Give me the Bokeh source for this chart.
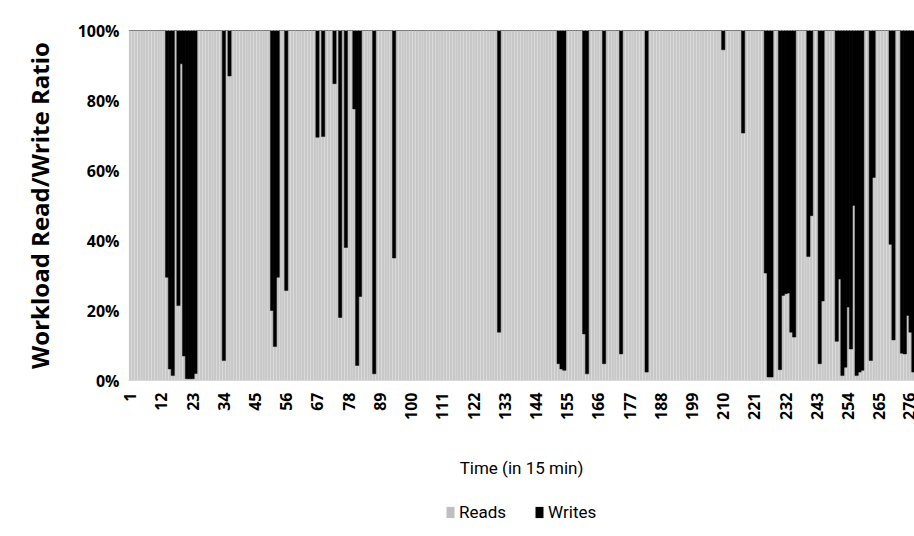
import math
from bokeh.plotting import figure
from bokeh.layouts import column
from bokeh.models import ColumnDataSource, FixedTicker, NumeralTickFormatter, Range1d, Legend
from bokeh.transform import stack
from bokeh.embed import file_html
from bokeh.resources import INLINE

# Reads share (%) per 15-min period (writes = remainder)
reads_pct = [
    100, 100, 100, 100, 100, 100, 100, 100, 100, 100, 100,            # 1-11
    100, 100, 29.5, 3.3, 1.4, 100, 21.4, 90.5, 7.0, 0.5, 0.5,         # 12-22
    0.5, 2.0, 100, 100, 100, 100, 100, 100, 100, 100, 100,            # 23-33
    5.7, 100, 87.0, 100, 100, 100, 100, 100, 100, 100, 100,           # 34-44
    100, 100, 100, 100, 100, 100, 20.0, 9.7, 29.5, 100, 100,          # 45-55
    25.7, 100, 100, 100, 100, 100, 100, 100, 100, 100, 100,           # 56-66
    69.5, 100, 69.7, 100, 100, 100, 84.8, 100, 18.0, 100, 38.0,       # 67-77
    100, 100, 77.6, 4.3, 24.0, 100, 100, 100, 100, 1.9, 100,          # 78-88
    100, 100, 100, 100, 100, 35.0, 100, 100, 100, 100, 100,           # 89-99
    100, 100, 100, 100, 100, 100, 100, 100, 100, 100, 100,            # 100-110
    100, 100, 100, 100, 100, 100, 100, 100, 100, 100, 100,            # 111-121
    100, 100, 100, 100, 100, 100, 100, 100, 100, 13.8, 100,           # 122-132
    100, 100, 100, 100, 100, 100, 100, 100, 100, 100, 100,            # 133-143
    100, 100, 100, 100, 100, 100, 100, 100, 4.8, 3.3, 2.9,            # 144-154
    100, 100, 100, 100, 100, 100, 13.3, 1.9, 100, 100, 100,           # 155-165
    100, 100, 4.8, 100, 100, 100, 100, 100, 7.6, 100, 100,            # 166-176
    100, 100, 100, 100, 100, 100, 2.4, 100, 100, 100, 100,            # 177-187
    100, 100, 100, 100, 100, 100, 100, 100, 100, 100, 100,            # 188-198
    100, 100, 100, 100, 100, 100, 100, 100, 100, 100, 100,            # 199-209
    94.5, 100, 100, 100, 100, 100, 100, 70.7, 100, 100, 100,          # 210-220
    100, 100, 100, 100, 30.7, 1.0, 1.0, 100, 100, 3.1, 24.3,          # 221-231
    24.8, 25.0, 13.8, 12.4, 100, 100, 100, 100, 35.4, 47.1, 100,      # 232-242
    100, 4.8, 22.7, 100, 100, 100, 100, 11.2, 29.0, 1.4, 3.8,         # 243-253
    21.0, 9.0, 50.0, 1.4, 2.4, 2.9, 100, 100, 5.7, 58.0, 100,         # 254-264
    100, 100, 100, 100, 38.9, 11.6, 100, 100, 7.8, 7.6, 18.6,         # 265-275
    13.8, 2.4,                                                        # 276-277
]
x_ticks = [1, 12, 23, 34, 45, 56, 67, 78, 89, 100, 111, 122, 133, 144,
           155, 166, 177, 188, 199, 210, 221, 232, 243, 254, 265, 276]
y_ticks = [0, 0.2, 0.4, 0.6, 0.8, 1.0]
series = ["Reads", "Writes"]
series_colors = ["#c8c8c8", "#000000"]
legend_colors = ["#bfbfbf", "#000000"]

periods = list(range(1, len(reads_pct) + 1))
reads = [r / 100.0 for r in reads_pct]
writes = [1.0 - r for r in reads]
src = ColumnDataSource(dict(t=periods, Reads=reads, Writes=writes))

p = figure(width=914, height=490, output_backend="svg", toolbar_location=None,
           x_range=Range1d(0.4, 277.4), y_range=Range1d(0, 1),
           min_border_left=128, min_border_right=0, min_border_top=30,
           min_border_bottom=110)

p.vbar(x="t", bottom=0, top=stack("Reads"), width=0.93, source=src,
       fill_color=series_colors[0], line_color=None)
p.vbar(x="t", bottom=stack("Reads"), top=stack("Reads", "Writes"), width=1.15,
       source=src, fill_color=series_colors[1], line_color=series_colors[1],
       line_width=0.5)

p.grid.visible = False
p.outline_line_color = None
p.background_fill_color = "white"

# x axis
xa = p.xaxis[0]
xa.ticker = FixedTicker(ticks=x_ticks)
xa.major_label_orientation = math.pi / 2
xa.major_label_text_font = "Open Sans"
xa.major_label_text_font_style = "bold"
xa.major_label_text_font_size = "16px"
xa.major_label_text_color = "#000000"
xa.major_label_standoff = 12
xa.major_tick_line_color = None
xa.major_tick_out = 0
xa.minor_tick_line_color = None
xa.axis_line_color = "#d9d9d9"
xa.axis_label = "Time (in 15 min)"
xa.axis_label_text_font = "Roboto"
xa.axis_label_text_font_style = "normal"
xa.axis_label_text_font_size = "17px"
xa.axis_label_text_color = "#000000"
xa.axis_label_standoff = 35

# y axis
ya = p.yaxis[0]
ya.ticker = FixedTicker(ticks=y_ticks)
ya.formatter = NumeralTickFormatter(format="0%")
ya.major_label_text_font = "Open Sans"
ya.major_label_text_font_style = "bold"
ya.major_label_text_font_size = "16px"
ya.major_label_text_color = "#000000"
ya.major_label_standoff = 9
ya.major_tick_line_color = None
ya.major_tick_out = 0
ya.minor_tick_line_color = None
ya.axis_line_color = None
ya.axis_label = "Workload Read/Write Ratio"
ya.axis_label_text_font = "Open Sans"
ya.axis_label_text_font_style = "bold"
ya.axis_label_text_font_size = "24px"
ya.axis_label_text_color = "#000000"
ya.axis_label_standoff = 19

# legend strip underneath the chart (its frame is aligned with the chart's frame)
lf = figure(width=914, height=46, output_backend="svg", toolbar_location=None,
            x_range=Range1d(0, 1), y_range=Range1d(0, 1),
            x_axis_location=None, y_axis_location=None, min_border=0)
lf.grid.visible = False
lf.outline_line_color = None
# one placeholder bar each, far outside the strip's visible range
swatch = ColumnDataSource(dict(t=[50], top=[50]))
lr = [lf.vbar(x="t", top="top", width=1, source=swatch,
              fill_color=c, line_color=None) for c in legend_colors]
legend = Legend(items=[(series[0], [lr[0]]), (series[1], [lr[1]])],
                orientation="horizontal", location=(317, 14),
                label_text_font="Roboto", label_text_font_size="17px",
                label_text_color="#000000",
                glyph_width=10, glyph_height=14, label_standoff=4,
                spacing=28, padding=0, margin=0,
                border_line_color=None, background_fill_alpha=0)
lf.add_layout(legend, "center")

layout = column(p, lf, spacing=0)
open("out.html", "w").write(file_html(layout, INLINE))
